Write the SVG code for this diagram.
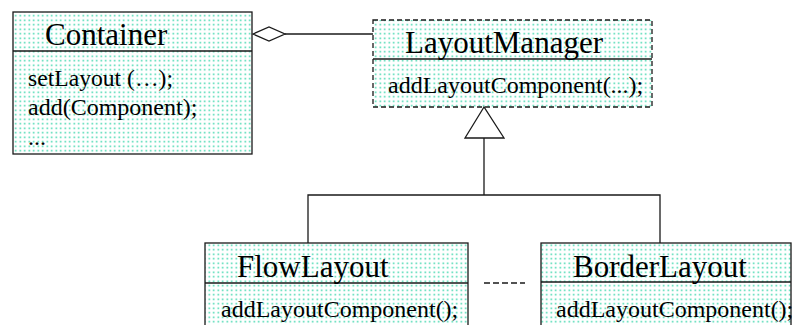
<svg xmlns="http://www.w3.org/2000/svg" width="793" height="325" viewBox="0 0 793 325">
<defs>
<pattern id="dots" width="4.5" height="4.5" patternUnits="userSpaceOnUse">
<rect width="4.5" height="4.5" fill="#ffffff"/>
<rect x="1.5" y="1.5" width="1.5" height="1.5" fill="#2fd3a6"/>
</pattern>
</defs>
<style>
.box{fill:url(#dots);stroke:#1a1a1a;stroke-width:1.3}
.dash{stroke-dasharray:5,3}
.div{stroke:#1a1a1a;stroke-width:1.3}
.title{font-family:"Liberation Serif","Times New Roman",serif;font-size:31px;fill:#000}
.m{font-family:"Liberation Serif","Times New Roman",serif;font-size:24px;fill:#000}
.ln{stroke:#1a1a1a;stroke-width:1.3;fill:none}
</style>
<g id="Container">
<rect class="box" x="13" y="12" width="239" height="142"/>
<line class="div" x1="13" y1="51" x2="252" y2="51"/>
<text class="title" x="45" y="45">Container</text>
<text class="m" x="28" y="86" textLength="145" lengthAdjust="spacingAndGlyphs">setLayout (…);</text>
<text class="m" x="28" y="115">add(Component);</text>
<text class="m" x="28" y="145">...</text>
</g>
<g id="LayoutManager">
<rect class="box dash" x="373" y="20" width="279" height="87"/>
<line class="div" x1="373" y1="59" x2="652" y2="59"/>
<text class="title" x="405" y="53">LayoutManager</text>
<text class="m" x="388" y="93">addLayoutComponent(...);</text>
</g>
<g id="FlowLayout">
<rect class="box" x="205" y="243" width="263" height="90"/>
<line class="div" x1="205" y1="283" x2="468" y2="283"/>
<text class="title" x="237" y="277">FlowLayout</text>
<text class="m" x="221" y="317">addLayoutComponent();</text>
</g>
<g id="BorderLayout">
<rect class="box" x="541" y="243" width="250" height="90"/>
<line class="div" x1="541" y1="282" x2="791" y2="282"/>
<text class="title" x="573" y="277">BorderLayout</text>
<text class="m" x="556" y="317">addLayoutComponent();</text>
</g>
<g id="connectors">
<polygon points="253,34 269,27 285,34 269,41" fill="#fff" stroke="#1a1a1a" stroke-width="1.3"/>
<line class="ln" x1="285" y1="34" x2="373" y2="34"/>
<polygon points="484,107 465,138 504,138" fill="#fff" stroke="#1a1a1a" stroke-width="1.3"/>
<line class="ln" x1="484" y1="138" x2="484" y2="195"/>
<polyline class="ln" points="308,243 308,195 660,195 660,243"/>
<line class="ln" x1="484" y1="283" x2="525" y2="283" stroke-dasharray="6,3"/>
</g>
</svg>
